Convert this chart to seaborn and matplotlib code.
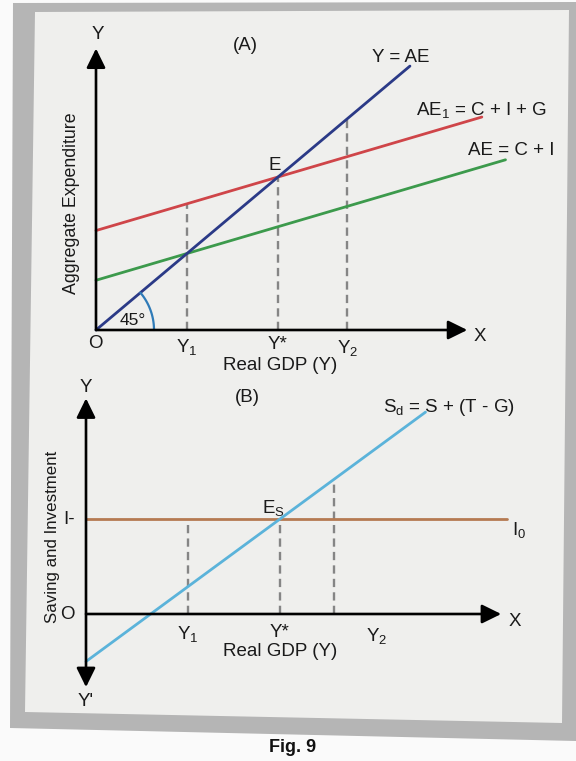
import numpy as np
import pandas as pd
import matplotlib
matplotlib.use("Agg")
import matplotlib.pyplot as plt
from matplotlib.patches import Polygon
import seaborn as sns

sns.set_style("white")
plt.rcParams["font.family"] = ["Liberation Sans", "DejaVu Sans"]
plt.rcParams["mathtext.fontset"] = "custom"
plt.rcParams["mathtext.rm"] = "Liberation Sans"
plt.rcParams["mathtext.it"] = "Liberation Sans:italic"

# ---- Panel A: aggregate expenditure (Keynesian cross) ----
income_a = [5.0, 10.0, 13.8]          # Y1, Y*, Y2
income_tags = ["Y$_\\mathregular{1}$", "Y*", "Y$_\\mathregular{2}$"]
mpc = 0.35                            # slope of both AE schedules
ae_ci_intercept = 3.25                # AE = C + I
ae_cig_intercept = 6.5                # AE1 = C + I + G
y45_end = 17.25
ae_cig_end = 21.2
ae_ci_end = 22.5
axis_a_x_end, axis_a_y_end = 20.4, 18.4

# ---- Panel B: saving and investment ----
income_b = [5.26, 10.0, 12.8]         # Y1, Y*, Y2
income_b_tag_pos = [5.26, 10.0, 15.0]
investment_level = 5.0                # I0
sd_intercept = -2.5                   # Sd = S + (T - G)
sd_slope = 0.75
sd_end = 17.5
inv_end = 21.7
axis_b_x_end, axis_b_y_top, axis_b_y_bottom = 21.4, 11.35, -3.85

W, H = 576, 761
fig = plt.figure(figsize=(W / 100, H / 100), dpi=100)
fig.patch.set_facecolor("#fafafa")


def fpts(pts):
    return [(x / W, 1 - y / H) for x, y in pts]


# mount and sheet
fig.add_artist(Polygon(fpts([(13, 3), (576, 2), (576, 741), (10, 728)]),
                       closed=True, transform=fig.transFigure,
                       facecolor="#b5b5b5", edgecolor="none", zorder=0))
fig.add_artist(Polygon(fpts([(35, 12), (569, 10), (562, 723), (25, 712)]),
                       closed=True, transform=fig.transFigure,
                       facecolor="#efefed", edgecolor="none", zorder=0))


def make_axes(left, top, right, bottom, xlim, ylim):
    ax = fig.add_axes([left / W, 1 - bottom / H, (right - left) / W, (bottom - top) / H])
    ax.set_xlim(*xlim)
    ax.set_ylim(*ylim)
    ax.set_axis_off()
    ax.patch.set_visible(False)
    return ax


def arrow(ax, start, end, style="-|>"):
    ax.annotate("", xy=end, xytext=start,
                arrowprops=dict(arrowstyle=style + ",head_length=0.65,head_width=0.32",
                                color="black", lw=1.9, mutation_scale=18,
                                shrinkA=0, shrinkB=0), annotation_clip=False)


def line(ax, xs, ys, color, lw=2.0, dashed=False):
    df = pd.DataFrame({"x": xs, "y": ys})
    kw = dict(dashes=(3.5, 2.2)) if dashed else {}
    sns.lineplot(data=df, x="x", y="y", ax=ax, color=color, linewidth=lw,
                 estimator=None, sort=False, **kw)


TXT = dict(fontsize=13.5, ha="center", va="center", color="#1a1a1a")
DASH = "#858585"

# ================= Panel A =================
axA = make_axes(40, 20, 540, 380,
                ((40 - 96) / 18.2, (540 - 96) / 18.2),
                ((330 - 380) / 15.3, (330 - 20) / 15.3))

# dashed guides
line(axA, [income_a[0]] * 2, [0, ae_cig_intercept + mpc * income_a[0]], DASH, 1.7, True)
line(axA, [income_a[1]] * 2, [0, income_a[1]], DASH, 1.7, True)
line(axA, [income_a[2]] * 2, [0, income_a[2]], DASH, 1.7, True)

# schedules
line(axA, [0, ae_ci_end], [ae_ci_intercept, ae_ci_intercept + mpc * ae_ci_end], "#3c9a4c")
line(axA, [0, ae_cig_end], [ae_cig_intercept, ae_cig_intercept + mpc * ae_cig_end], "#cf4549")
line(axA, [0, y45_end], [0, y45_end], "#2b3a87")

# 45 degree arc drawn as a circle in screen space
r_px = 58
t = np.linspace(0, np.arctan(15.3 / 18.2), 40)
axA.plot(r_px * np.cos(t) / 18.2, r_px * np.sin(t) / 15.3, color="#2f7bb8", lw=1.6)

arrow(axA, (0, 0), (0, axis_a_y_end))
arrow(axA, (0, 0), (axis_a_x_end, 0))

axA.text(0.1, 19.3, "Y", **TXT)
axA.text(8.2, 18.6, "(A)", **TXT)
axA.text(16.75, 17.8, "Y = AE", **TXT)
axA.text(21.2, 14.4, "AE$_\\mathregular{1}$ = C + I + G", **TXT)
axA.text(22.8, 11.75, "AE = C + I", **TXT)
axA.text(9.8, 10.75, "E", **TXT)
axA.text(2.0, 0.65, "45°", **{**TXT, "fontsize": 12.5})
axA.text(-0.05, -0.85, "O", **TXT)
for xv, tag, dy in zip(income_a, income_tags, [-1.1, -0.95, -1.2]):
    axA.text(xv, dy, tag, **TXT)
axA.text(10.1, -2.35, "Real GDP (Y)", **TXT)
axA.text(21.1, -0.45, "X", **TXT)
axA.text(-1.35, 8.3, "Aggregate Expenditure", rotation=90, **{**TXT, "fontsize": 12.8})

# ================= Panel B =================
axB = make_axes(40, 380, 540, 715,
                ((40 - 86) / 19.4, (540 - 86) / 19.4),
                ((614 - 715) / 19, (614 - 380) / 19))

line(axB, [income_b[0]] * 2, [0, investment_level], DASH, 1.7, True)
line(axB, [income_b[1]] * 2, [0, investment_level], DASH, 1.7, True)
line(axB, [income_b[2]] * 2, [0, sd_intercept + sd_slope * income_b[2]], DASH, 1.7, True)

line(axB, [0, inv_end], [investment_level, investment_level], "#b57a52")
line(axB, [0, sd_end], [sd_intercept, sd_intercept + sd_slope * sd_end], "#5bb3da")

arrow(axB, (0, axis_b_y_bottom), (0, axis_b_y_top), style="<|-|>")
arrow(axB, (0, 0), (axis_b_x_end, 0))

axB.text(0, 11.9, "Y", **TXT)
axB.text(0, -4.6, "Y'", **TXT)
axB.text(8.3, 11.4, "(B)", **TXT)
axB.text(18.7, 10.85, "S$_\\mathregular{d}$ = S + (T - G)", **TXT)
axB.text(9.65, 5.6, "E$_\\mathregular{S}$", **TXT)
axB.text(22.3, 4.4, "I$_\\mathregular{0}$", **TXT)
axB.text(-0.85, 5.0, "I-", **TXT)
axB.text(-0.95, -0.05, "O", **TXT)
for xv, tag, dy in zip(income_b_tag_pos, income_tags, [-1.05, -0.95, -1.15]):
    axB.text(xv, dy, tag, **TXT)
axB.text(10.0, -2.0, "Real GDP (Y)", **TXT)
axB.text(22.1, -0.37, "X", **TXT)
axB.text(-1.75, 4.05, "Saving and Investment", rotation=90, **{**TXT, "fontsize": 12.2})

fig.text(293 / W, 1 - 748 / H, "Fig. 9", ha="center", va="center",
         fontsize=13, fontweight="bold", color="#111111")

fig.savefig("out.png", dpi=100, facecolor=fig.get_facecolor())
